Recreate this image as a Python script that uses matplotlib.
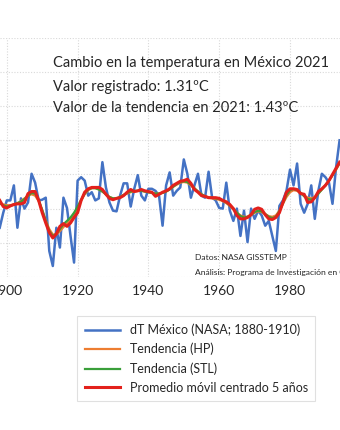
import matplotlib.pyplot as plt

plt.rcParams['font.family'] = ['Lato', 'DejaVu Sans']

years = list(range(1898, 1995))

# anomalía anual (°C) respecto a 1880-1910
dt_mexico = [
    -0.28, -0.06, 0.12, 0.12, 0.34, -0.28, 0.15, 0.00, 0.09, 0.51,
    0.38, 0.12, 0.13, 0.16, -0.62, -0.84, -0.28, -0.57, 0.16, 0.01,
    -0.40, -0.79, 0.41, 0.46, 0.41, 0.19, 0.24, 0.12, 0.15, 0.68,
    0.31, 0.09, -0.03, -0.04, 0.19, 0.37, 0.37, 0.03, 0.29, 0.49,
    0.19, 0.12, 0.29, 0.29, 0.26, 0.19, -0.25, 0.34, 0.53, 0.19,
    0.26, 0.31, 0.72, 0.51, 0.16, 0.34, 0.51, 0.19, 0.16, 0.54,
    0.16, 0.12, 0.01, 0.00, 0.38, -0.03, -0.18, 0.00, -0.40, -0.03,
    -0.49, 0.00, -0.15, -0.03, -0.10, -0.25, -0.18, -0.40, -0.62, 0.04,
    0.12, 0.26, 0.57, 0.34, 0.66, 0.07, -0.06, 0.07, 0.34, -0.15,
    0.26, 0.51, 0.46, 0.38, 0.07, 0.60, 1.00,
]

tend_hp = [
    0.07, 0.06, 0.05, 0.05, 0.06, 0.08, 0.11, 0.15, 0.19, 0.21,
    0.19, 0.11, -0.02, -0.17, -0.30, -0.38, -0.38, -0.33, -0.27, -0.22,
    -0.17, -0.09, 0.01, 0.12, 0.21, 0.27, 0.30, 0.30, 0.28, 0.25,
    0.21, 0.17, 0.15, 0.15, 0.17, 0.20, 0.22, 0.24, 0.25, 0.26,
    0.26, 0.25, 0.24, 0.23, 0.22, 0.22, 0.23, 0.25, 0.28, 0.32,
    0.35, 0.38, 0.39, 0.38, 0.34, 0.29, 0.25, 0.21, 0.18, 0.16,
    0.15, 0.14, 0.13, 0.11, 0.08, 0.04, -0.01, -0.06, -0.10, -0.12,
    -0.12, -0.09, -0.06, -0.04, -0.05, -0.08, -0.11, -0.12, -0.10, -0.03,
    0.07, 0.17, 0.24, 0.27, 0.26, 0.23, 0.19, 0.16, 0.15, 0.17,
    0.22, 0.28, 0.34, 0.41, 0.49, 0.57, 0.66,
]

tend_stl = [
    0.08, 0.05, 0.03, 0.04, 0.06, 0.08, 0.10, 0.14, 0.19, 0.23,
    0.22, 0.13, -0.02, -0.18, -0.33, -0.40, -0.37, -0.30, -0.23, -0.18,
    -0.13, -0.06, 0.03, 0.13, 0.22, 0.28, 0.30, 0.30, 0.28, 0.25,
    0.21, 0.17, 0.15, 0.15, 0.17, 0.20, 0.23, 0.25, 0.26, 0.26,
    0.26, 0.25, 0.24, 0.23, 0.22, 0.22, 0.23, 0.25, 0.28, 0.32,
    0.36, 0.39, 0.40, 0.39, 0.35, 0.30, 0.25, 0.21, 0.18, 0.16,
    0.16, 0.15, 0.14, 0.12, 0.09, 0.05, 0.00, -0.06, -0.11, -0.13,
    -0.12, -0.09, -0.05, -0.03, -0.04, -0.08, -0.12, -0.14, -0.12, -0.04,
    0.08, 0.20, 0.27, 0.29, 0.27, 0.23, 0.18, 0.14, 0.13, 0.16,
    0.22, 0.28, 0.34, 0.41, 0.49, 0.58, 0.67,
]

prom_movil_5 = [
    0.12, 0.03, 0.01, 0.04, 0.06, 0.07, 0.07, 0.09, 0.22, 0.25,
    0.25, 0.12, -0.06, -0.21, -0.35, -0.43, -0.37, -0.26, -0.22, -0.26,
    -0.21, -0.13, -0.06, 0.12, 0.24, 0.29, 0.31, 0.31, 0.31, 0.28,
    0.21, 0.15, 0.13, 0.15, 0.16, 0.19, 0.24, 0.28, 0.25, 0.26,
    0.28, 0.26, 0.25, 0.24, 0.18, 0.21, 0.24, 0.26, 0.29, 0.34,
    0.37, 0.40, 0.41, 0.43, 0.37, 0.28, 0.24, 0.19, 0.18, 0.16,
    0.16, 0.16, 0.15, 0.12, 0.10, 0.06, 0.00, -0.10, -0.15, -0.15,
    -0.13, -0.09, -0.01, 0.01, -0.01, -0.09, -0.15, -0.16, -0.13, -0.06,
    0.09, 0.24, 0.29, 0.29, 0.28, 0.22, 0.21, 0.09, 0.10, 0.16,
    0.25, 0.29, 0.34, 0.41, 0.50, 0.59, 0.68,
]

fig = plt.figure(figsize=(3.4, 4.3), dpi=100)
ax = fig.add_axes([0.0, 0.356, 1.0, 0.556])

ax.plot(years, dt_mexico, color='#4472C4', lw=1.8, label='dT México (NASA; 1880-1910)')
ax.plot(years, tend_hp, color='#ED7D31', lw=1.6, label='Tendencia (HP)')
ax.plot(years, tend_stl, color='#3A9F3A', lw=1.6, label='Tendencia (STL)')
ax.plot(years, prom_movil_5, color='#E3211C', lw=2.2, label='Promedio móvil centrado 5 años')

ax.set_xlim(1898.08, 1994.12)
ax.set_ylim(-1.0, 2.5)
ax.set_xticks([1900, 1920, 1940, 1960, 1980])
ax.set_yticks([-1.0, -0.5, 0.0, 0.5, 1.0, 1.5, 2.0, 2.5])
ax.grid(True, color='#D9D9D9', lw=0.8, ls=(0, (1, 1.5)))
ax.set_axisbelow(True)
for s in ax.spines.values():
    s.set_visible(False)
ax.tick_params(length=0, labelsize=10, labelcolor='#262626', pad=6, labelleft=False)

# recuadro de texto con los valores de 2021
ax.text(0.156, 1 - 63 / 430, 'Cambio en la temperatura en México 2021', transform=fig.transFigure,
        fontsize=10.5, color='#262626', va='center')
ax.text(0.156, 1 - 87 / 430, 'Valor registrado: 1.31ºC', transform=fig.transFigure,
        fontsize=10.5, color='#262626', va='center')
ax.text(0.156, 1 - 108 / 430, 'Valor de la tendencia en 2021: 1.43ºC', transform=fig.transFigure,
        fontsize=10.5, color='#262626', va='center')

ax.text(0.573, 1 - 258 / 430, 'Datos: NASA GISSTEMP', transform=fig.transFigure,
        fontsize=6.1, color='#262626', va='center')
ax.text(0.573, 1 - 273 / 430, 'Análisis: Programa de Investigación en Cambio Climático',
        transform=fig.transFigure, fontsize=6.1, color='#262626', va='center')

leg = fig.legend(loc='upper left', bbox_to_anchor=(77 / 340, 1 - 316 / 430),
                 fontsize=9, frameon=True, fancybox=False, edgecolor='#D9D9D9',
                 handlelength=2.8, labelspacing=0.55, borderpad=0.6, borderaxespad=0)
leg.get_frame().set_linewidth(0.8)
for t in leg.get_texts():
    t.set_color('#262626')

fig.savefig('out.png', dpi=100)
